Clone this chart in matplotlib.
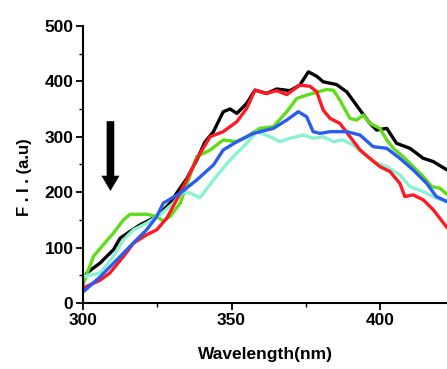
import matplotlib
matplotlib.use("Agg")
import matplotlib.pyplot as plt

# Data (wavelength nm, fluorescence intensity)
black_x = [300, 301.2, 305.7, 310.2, 312.5, 315.8, 319.2, 324.8, 329.3, 331.5, 335, 338.3, 341, 343.9, 347.2, 349.5, 351.8, 355.1, 357.9, 361.8, 365.2, 369.7, 373, 375.9, 378.7, 380.9, 385.4, 388.8, 393.3, 396.6, 398.9, 402.3, 405.6, 410.1, 414.6, 418, 422.6]
black_y = [35, 54, 72, 96, 117, 129, 141, 156, 180, 198, 225, 258, 290, 309, 345, 350, 342, 360, 384, 378, 386, 383, 393, 417, 409, 399, 394, 381, 348, 324, 312, 315, 288, 279, 261, 255, 240]

red_x = [300, 305.7, 309, 313.6, 317, 321.4, 324.8, 328.2, 331.5, 334.9, 338.3, 342.8, 347.2, 351.8, 355.1, 357.9, 361.8, 365.2, 368.6, 373, 376.4, 378.7, 380.9, 383.2, 386.5, 389.9, 393.3, 396.6, 400, 403.4, 406.7, 408.4, 411.2, 414.6, 418, 422.6]
red_y = [27, 41, 54, 84, 108, 123, 132, 153, 186, 222, 260, 300, 309, 327, 351, 384, 378, 383, 376, 393, 391, 381, 348, 333, 324, 300, 276, 261, 246, 237, 216, 192, 195, 186, 168, 136]

green_x = [300, 303.5, 306.8, 310.2, 313.6, 315.8, 321.4, 324.8, 327, 329.3, 332.7, 335, 338.3, 342.8, 347.2, 351.8, 355.1, 359.6, 364.1, 368.6, 372, 375.3, 379.2, 382, 384.3, 386.5, 389.9, 392.2, 394.4, 396.6, 400, 402.3, 404.5, 407.8, 411.2, 414.6, 417.4, 420.2, 422.6]
green_y = [35, 84, 105, 126, 150, 160, 160, 156, 148, 156, 180, 215, 264, 276, 294, 291, 300, 315, 318, 345, 369, 375, 381, 385, 384, 366, 333, 330, 339, 324, 315, 294, 279, 264, 246, 228, 210, 207, 196]

blue_x = [300, 305.7, 312.5, 318, 321.4, 324.8, 327, 332.7, 338.3, 343.9, 347.2, 351.8, 357.4, 364.1, 368.6, 372.5, 375.3, 377.5, 379.8, 383.2, 388.8, 393.3, 397.7, 402.3, 406.7, 411.2, 415.7, 419, 422.6]
blue_y = [20, 47, 84, 114, 132, 156, 180, 198, 222, 249, 276, 291, 306, 315, 330, 345, 336, 309, 306, 309, 309, 303, 282, 279, 261, 240, 216, 192, 183]

cyan_x = [300, 305.7, 310.2, 313.6, 317, 321.4, 325.9, 330.4, 333.8, 336, 339.4, 343.9, 349.5, 355.1, 358.5, 363, 366.3, 369.7, 374.2, 377.5, 380.9, 384.3, 387.6, 391, 394.4, 397.7, 402.3, 406.7, 410.1, 414.6, 419, 422.6]
cyan_y = [47, 54, 84, 114, 132, 144, 159, 180, 201, 198, 190, 222, 258, 288, 309, 300, 291, 297, 303, 297, 300, 291, 294, 285, 270, 255, 246, 231, 210, 201, 189, 183]

x_ticks = [300, 350, 400]
y_ticks = [0, 100, 200, 300, 400, 500]

plt.rcParams['font.family'] = ['Liberation Sans', 'DejaVu Sans']

fig = plt.figure(figsize=(4.47, 3.69), dpi=100)
ax = fig.add_axes([0.186, 0.179, 0.814, 0.751])

lw = 2.4
kw = dict(lw=lw, solid_joinstyle='round', solid_capstyle='round')
ax.plot(black_x, black_y, color='#000000', **kw)
ax.plot(green_x, green_y, color='#5fdc1a', **kw)
ax.plot(cyan_x, cyan_y, color='#8af2d2', **kw)
ax.plot(red_x, red_y, color='#ff1a22', **kw)
ax.plot(blue_x, blue_y, color='#2a5cf0', **kw)

# arrow
ax.annotate('', xy=(309.2, 202), xytext=(309.2, 328),
            arrowprops=dict(arrowstyle='simple,head_width=1.3,head_length=1.1,tail_width=0.55',
                            color='black', lw=0, shrinkA=0, shrinkB=0))

ax.set_xlim(300, 422.6)
ax.set_ylim(0, 500)
ax.set_xticks(x_ticks)
ax.set_xticks([325, 375], minor=True)
ax.set_yticks(y_ticks)
ax.set_yticks([50, 150, 250, 350, 450], minor=True)
ax.tick_params(axis='both', which='major', direction='out', length=5, width=1.3,
               labelsize=12.5, pad=2)
ax.tick_params(axis='both', which='minor', direction='out', length=3, width=1.0)
for lab in ax.get_xticklabels() + ax.get_yticklabels():
    lab.set_fontweight('bold')

for s in ['top', 'right']:
    ax.spines[s].set_visible(False)
for s in ['left', 'bottom']:
    ax.spines[s].set_linewidth(1.5)

ax.set_xlabel('Wavelength(nm)', fontsize=12.5, fontweight='bold', labelpad=14)
ax.set_ylabel('F . I . (a.u)', fontsize=12, fontweight='bold')
ax.yaxis.set_label_coords(-0.14, 0.453)

fig.savefig('out.png', dpi=100)
